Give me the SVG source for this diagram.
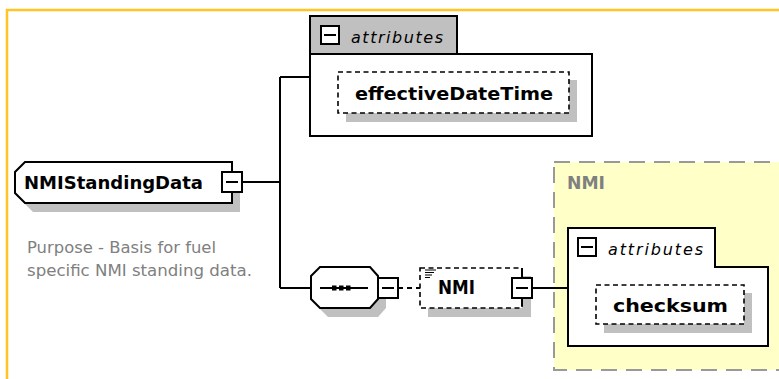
<svg xmlns="http://www.w3.org/2000/svg" width="779" height="379" viewBox="0 0 779 379">
<style>
.ln{fill:none;stroke:#000;stroke-width:2}
.box{fill:#fff;stroke:#000;stroke-width:2}
.dbox{fill:#fff;stroke:#000;stroke-width:1.6;stroke-dasharray:5,3.5}
.sh{fill:#c0c0c0;stroke:none}
.b{font-family:"DejaVu Sans","Liberation Sans",sans-serif;font-weight:bold;font-size:18px;fill:#000}
.it{font-family:"DejaVu Sans","Liberation Sans",sans-serif;font-style:italic;font-size:16px;fill:#000}
.desc{font-family:"DejaVu Sans","Liberation Sans",sans-serif;font-size:15px;fill:#808080}
.mb{fill:#fff;stroke:#000;stroke-width:2}
</style>
<rect width="779" height="379" fill="#fff"/>
<path d="M7,379 V10 H779" fill="none" stroke="#ffc425" stroke-width="2.5"/>

<g id="nmi-group">
<rect x="554" y="162" width="240" height="208" fill="#ffffc8" stroke="#999" stroke-width="2" stroke-dasharray="16,9"/>
<text x="567" y="189" class="b" style="fill:#808080;font-size:17px" textLength="38" lengthAdjust="spacingAndGlyphs">NMI</text>
</g>

<g id="connectors">
<path class="ln" d="M242,182 H280"/>
<path class="ln" d="M280,77 V288"/>
<path class="ln" d="M280,77 H310"/>
<path class="ln" d="M280,288 H311"/>
<path class="ln" d="M398,288 H420" stroke-dasharray="5,4"/>
<path class="ln" d="M532,288 H568"/>
</g>

<g id="NMIStandingData">
<polygon class="sh" points="33,171 240,171 240,212 33,212 23,202 23,181"/>
<polygon class="box" points="25,162 232,162 232,203 25,203 15,193 15,172"/>
<text x="24" y="189" class="b" textLength="179" lengthAdjust="spacingAndGlyphs">NMIStandingData</text>
<rect class="mb" x="222" y="172" width="20" height="20"/>
<path class="ln" d="M226,182 H238"/>
<text x="27" y="253" class="desc" textLength="189" lengthAdjust="spacingAndGlyphs">Purpose - Basis for fuel</text>
<text x="27" y="276" class="desc" textLength="225" lengthAdjust="spacingAndGlyphs">specific NMI standing data.</text>
</g>

<g id="attributes1">
<path class="box" d="M310,16 H457 V54 H592 V136 H310 Z"/>
<path d="M310,16 H457 V54 H310 Z" fill="#c0c0c0" stroke="#000" stroke-width="2"/>
<rect class="mb" x="321" y="26" width="18" height="18"/>
<path class="ln" d="M324,35 H336"/>
<text x="351" y="43" class="it" textLength="92">attributes</text>
</g>

<g id="effectiveDateTime">
<rect class="sh" x="346" y="80" width="231" height="42"/>
<rect class="dbox" x="338" y="72" width="231" height="41"/>
<text x="355" y="100" class="b" textLength="198" lengthAdjust="spacingAndGlyphs">effectiveDateTime</text>
</g>

<g id="sequence">
<polygon class="sh" points="319,285 328,276 378,276 386,285 386,308 378,317 328,317 319,308"/>
<polygon class="box" points="311,276 320,267 370,267 378,276 378,299 370,308 320,308 311,299"/>
<path class="ln" d="M320,288 H368"/>
<rect x="332" y="285.5" width="4.5" height="5" fill="#000"/>
<rect x="339" y="285.5" width="4.5" height="5" fill="#000"/>
<rect x="346" y="285.5" width="4.5" height="5" fill="#000"/>
<rect class="mb" x="378" y="278" width="20" height="20"/>
<path class="ln" d="M382,288 H394"/>
</g>

<g id="NMI">
<rect class="sh" x="428" y="276" width="103" height="41"/>
<rect class="dbox" x="420" y="268" width="102" height="40"/>
<path d="M425,270 H436 M425,272.5 H434 M425,275 H432 M425,277.5 H430" stroke="#000" stroke-width="1.2"/>
<text x="438" y="294" class="b" style="font-size:19px" textLength="37" lengthAdjust="spacingAndGlyphs">NMI</text>
<path class="ln" d="M522,268 V278 M522,298 V306"/>
<rect class="mb" x="512" y="278" width="20" height="20"/>
<path class="ln" d="M516,288 H528"/>
</g>

<g id="attributes2">
<path class="box" d="M568,228 H715 V267 H768 V346 H568 Z"/>
<rect class="mb" x="578" y="238" width="18" height="18"/>
<path class="ln" d="M581,247 H593"/>
<text x="608" y="255" class="it" textLength="95">attributes</text>
</g>

<g id="checksum">
<rect class="sh" x="604" y="293" width="148" height="40"/>
<rect class="dbox" x="596" y="285" width="148" height="39"/>
<text x="613" y="312" class="b" textLength="115" lengthAdjust="spacingAndGlyphs">checksum</text>
</g>
</svg>
